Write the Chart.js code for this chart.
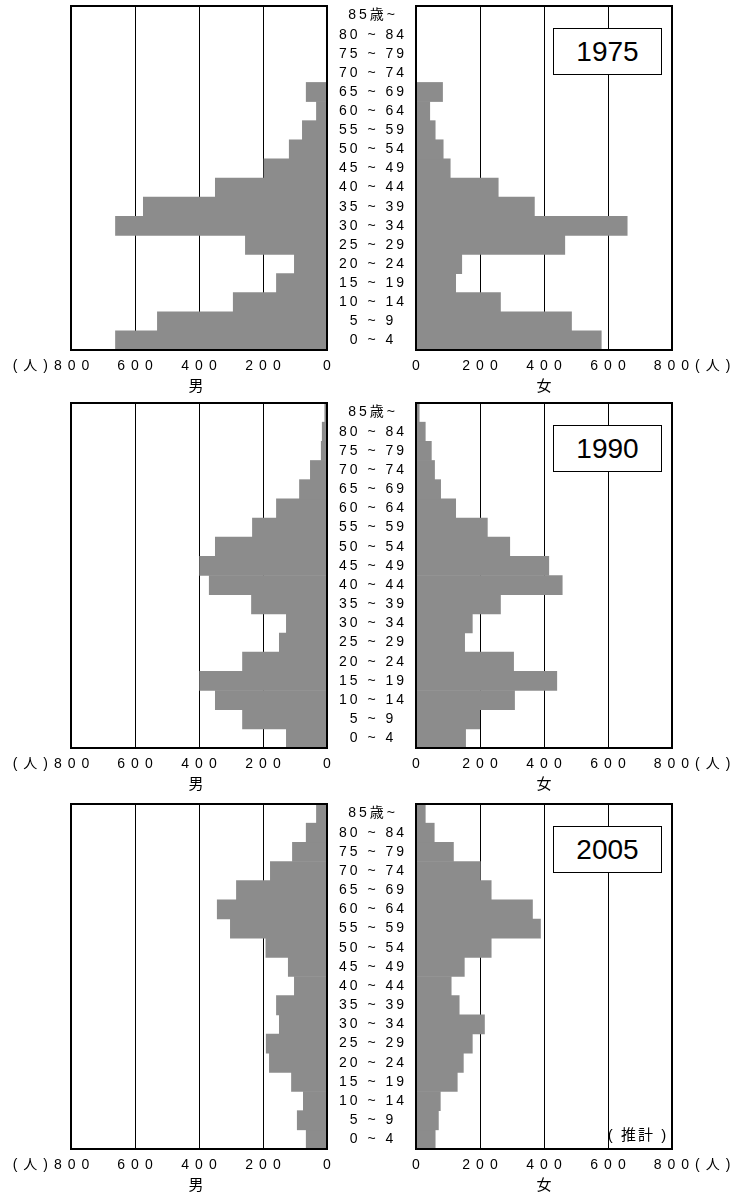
<!DOCTYPE html>
<html>
<head>
<meta charset="utf-8">
<script src="https://cdn.jsdelivr.net/npm/chart.js@4.4.1/dist/chart.umd.min.js"></script>
<style>
html,body{margin:0;padding:0;background:#fff;}
#page{position:relative;width:747px;height:1196px;overflow:hidden;background:#fff;}
#page canvas{position:absolute;}
.year{position:absolute;left:553px;width:109px;height:47px;box-sizing:border-box;border:1px solid #000;background:#fff;
  font-family:'Liberation Sans',Arial,sans-serif;font-size:28px;line-height:45px;text-align:center;color:#000;z-index:2;}
.note{position:absolute;left:598px;width:80px;height:22px;line-height:22px;text-align:center;white-space:pre;
  font-family:'Liberation Sans','Noto Sans CJK JP',sans-serif;font-size:15px;letter-spacing:2px;color:#000;z-index:2;}
</style>
</head>
<body>
<div id="page"></div>
<script>
// ---------------- data ----------------
const ageGroups = ["0 ~ 4","5 ~ 9","10 ~ 14","15 ~ 19","20 ~ 24","25 ~ 29","30 ~ 34","35 ~ 39","40 ~ 44",
                   "45 ~ 49","50 ~ 54","55 ~ 59","60 ~ 64","65 ~ 69","70 ~ 74","75 ~ 79","80 ~ 84","85歳~"];
const years = ["1975", "1990", "2005"];
const male1975   = [661,530,293,158,102,255,661,574,349,197,118,77,33,65,0,0,0,0];
const female1975 = [579,486,264,124,143,465,660,370,257,107,85,60,43,83,0,0,0,0];
const male1990   = [127,264,349,398,264,149,127,236,368,398,349,233,158,86,52,18,15,7];
const female1990 = [155,199,308,440,305,152,176,264,457,415,293,223,124,77,58,48,29,10];
const male2005   = [65,93,74,111,180,190,149,158,102,121,191,302,343,283,177,108,65,33];
const female2005 = [60,70,76,129,148,176,214,135,110,151,235,389,364,235,201,117,57,29];
const tickValues = [0, 200, 400, 600, 800];
const unitLabel = "(人)";
const maleTitle = "男";
const femaleTitle = "女";
const noteText = "( 推計 )";

// ---------------- layout / style ----------------
const FONT = "'Liberation Sans', 'Noto Sans CJK JP', sans-serif";
const BAR = "#8c8c8c";
const rows = [
  {top: 6,   bottom: 350,  male: male1975, female: female1975},
  {top: 403, bottom: 748,  male: male1990, female: female1990},
  {top: 804, bottom: 1149, male: male2005, female: female2005}
];
const PAD_TOP = 6, XAXIS_H = 46;
const TICK_LS = 6, AGE_LS = 3;
const MALE_LEFT = 71, MALE_RIGHT = 327, FEMALE_LEFT = 416, FEMALE_RIGHT = 672;
const FEMALE_CANVAS_X = 396;

Chart.defaults.font.family = FONT;
Chart.defaults.color = "#000";

const mctx = document.createElement('canvas').getContext('2d');
mctx.font = "normal 14px " + FONT;
const widest = Math.max(...ageGroups.map(t => mctx.measureText(t).width));
const ageCenter = (MALE_RIGHT + FEMALE_LEFT) / 2;
const agePad = ageCenter - MALE_RIGHT - widest / 2 + AGE_LS / 2;

const framePlugin = {
  id: 'frame',
  afterDatasetsDraw(chart) {
    const a = chart.chartArea, ctx = chart.ctx;
    ctx.save();
    ctx.strokeStyle = '#000';
    ctx.lineWidth = 2;
    ctx.strokeRect(a.left, a.top, a.right - a.left, a.bottom - a.top);
    ctx.restore();
  }
};
function spacingPlugin(first, second) {
  return {
    id: 'spacing',
    beforeDraw(chart) { chart.ctx.letterSpacing = first + 'px'; },
    beforeDatasetsDraw(chart) { chart.ctx.letterSpacing = second + 'px'; },
    afterDraw(chart) { chart.ctx.letterSpacing = '0px'; }
  };
}

const page = document.getElementById('page');

function xScale(isMale) {
  return {
    type: 'linear', min: 0, max: 800, reverse: isMale,
    afterBuildTicks: s => { s.ticks = tickValues.map(v => ({value: v})); },
    grid: {
      color: c => (c.tick && (c.tick.value === 0 || c.tick.value === 800)) ? 'rgba(0,0,0,0)' : '#000',
      lineWidth: 1, drawTicks: false
    },
    border: {display: false},
    ticks: {
      autoSkip: false, maxRotation: 0, minRotation: 0, padding: 7.3, labelOffset: TICK_LS / 2,
      color: '#000', font: {size: 14}, z: isMale ? 0 : 1,
      callback: v => v === 800 ? (isMale ? unitLabel + v + '\u3000\u3000' : '\u3000\u3000' + v + unitLabel) : String(v)
    },
    title: {display: true, text: isMale ? maleTitle : femaleTitle, color: '#000', font: {size: 15}, padding: {top: 0, bottom: 0.5}},
    afterFit: s => { s.height = XAXIS_H; }
  };
}

rows.forEach((r, i) => {
  const canvasTop = r.top - PAD_TOP;
  const h = PAD_TOP + (r.bottom - r.top) + XAXIS_H;

  // male
  const cm = document.createElement('canvas');
  cm.width = FEMALE_LEFT; cm.height = h;
  cm.style.left = '0px'; cm.style.top = canvasTop + 'px';
  page.appendChild(cm);
  new Chart(cm, {
    type: 'bar',
    data: {labels: ageGroups, datasets: [{data: r.male, backgroundColor: BAR, borderWidth: 0, barPercentage: 1, categoryPercentage: 1}]},
    options: {
      indexAxis: 'y', responsive: false, animation: false, devicePixelRatio: 1,
      layout: {padding: {left: MALE_LEFT, right: 0, top: PAD_TOP, bottom: 0}},
      plugins: {legend: {display: false}, tooltip: {enabled: false}},
      scales: {
        x: xScale(true),
        y: {
          type: 'category', position: 'right', reverse: true,
          grid: {display: false, drawTicks: false}, border: {display: false},
          ticks: {crossAlign: 'center', padding: agePad, color: '#000', font: {size: 14}, z: 1, autoSkip: false},
          afterFit: s => { s.width = FEMALE_LEFT - MALE_RIGHT; s.paddingTop = 0; s.paddingBottom = 0; }
        }
      }
    },
    plugins: [spacingPlugin(TICK_LS, AGE_LS), framePlugin]
  });

  // female
  const cf = document.createElement('canvas');
  cf.width = 747 - FEMALE_CANVAS_X; cf.height = h;
  cf.style.left = FEMALE_CANVAS_X + 'px'; cf.style.top = canvasTop + 'px';
  page.appendChild(cf);
  new Chart(cf, {
    type: 'bar',
    data: {labels: ageGroups, datasets: [{data: r.female, backgroundColor: BAR, borderWidth: 0, barPercentage: 1, categoryPercentage: 1}]},
    options: {
      indexAxis: 'y', responsive: false, animation: false, devicePixelRatio: 1,
      layout: {padding: {left: FEMALE_LEFT - FEMALE_CANVAS_X, right: 747 - FEMALE_RIGHT, top: PAD_TOP, bottom: 0}},
      plugins: {legend: {display: false}, tooltip: {enabled: false}},
      scales: {
        x: xScale(false),
        y: {type: 'category', display: false, reverse: true}
      }
    },
    plugins: [spacingPlugin(0, TICK_LS), framePlugin]
  });

  // year box
  const yb = document.createElement('div');
  yb.className = 'year';
  yb.style.top = (r.top + 22) + 'px';
  yb.textContent = years[i];
  page.appendChild(yb);
});

const note = document.createElement('div');
note.className = 'note';
note.style.top = '1124px';
note.textContent = noteText;
page.appendChild(note);
</script>
</body>
</html>
